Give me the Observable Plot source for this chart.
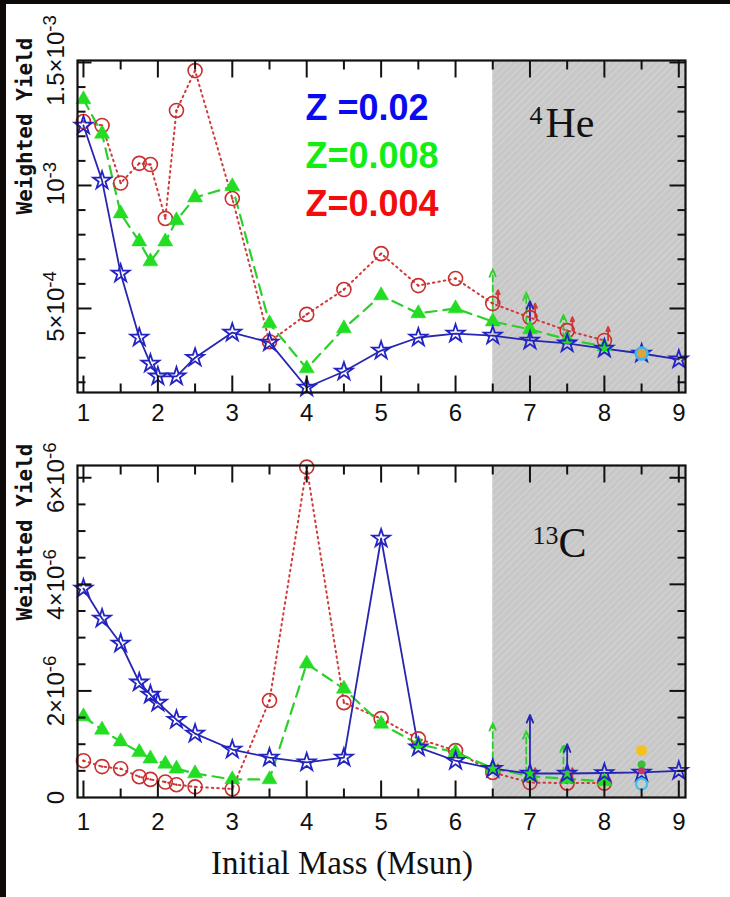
<!DOCTYPE html>
<html>
<head>
<meta charset="utf-8">
<script src="https://cdn.jsdelivr.net/npm/d3@7"></script>
<script src="https://cdn.jsdelivr.net/npm/@observablehq/plot@0.6"></script>
<style>
  html, body { margin: 0; padding: 0; background: #fff; }
  #page { position: relative; width: 730px; height: 897px; overflow: hidden; background: #fff; }
  #he4, #c13 { position: absolute; left: 0; }
  #he4 { top: 0; }
  #c13 { top: 430px; }
  .band { position: absolute; background: #0d0a07; }
  #xlabel {
    position: absolute; top: 845px; left: 342px; transform: translateX(-50%);
    font-family: "Liberation Serif", "DejaVu Serif", serif; font-size: 33px;
    color: #111; white-space: nowrap;
  }
</style>
</head>
<body>
<div id="page">
  <div id="he4"></div>
  <div id="c13"></div>
  <div id="xlabel">Initial Mass (Msun)</div>
  <div class="band" style="left:0;top:0;width:730px;height:4px"></div>
  <div class="band" style="left:0;top:0;width:6px;height:897px"></div>
</div>
<script>
// Initial masses (Msun) computed for each metallicity
const massZ020 = [1, 1.25, 1.5, 1.75, 1.9, 2, 2.25, 2.5, 3, 3.5, 4, 4.5, 5, 5.5, 6, 6.5, 7, 7.5, 8, 8.5, 9];
const massZ008 = [1, 1.25, 1.5, 1.75, 1.9, 2.1, 2.25, 2.5, 3, 3.5, 4, 4.5, 5, 5.5, 6, 6.5, 7, 7.5, 8];
const massZ004 = [1, 1.25, 1.5, 1.75, 1.9, 2.1, 2.25, 2.5, 3, 3.5, 4, 4.5, 5, 5.5, 6, 6.5, 7, 7.5, 8];

// IMF-weighted 4He yields
const he4Z020 = [1.244e-3, 1.02e-3, 6.42e-4, 3.82e-4, 2.76e-4, 2.24e-4, 2.24e-4, 3.0e-4, 4.02e-4, 3.62e-4, 1.79e-4,
                 2.44e-4, 3.29e-4, 3.82e-4, 3.98e-4, 3.9e-4, 3.7e-4, 3.58e-4, 3.37e-4, 3.17e-4, 2.93e-4];
const he4Z008 = [1.35e-3, 1.21e-3, 8.86e-4, 7.72e-4, 6.91e-4, 7.72e-4, 8.58e-4, 9.51e-4, 9.96e-4, 4.39e-4, 2.56e-4,
                 4.19e-4, 5.53e-4, 4.8e-4, 5.0e-4, 4.47e-4, 4.15e-4, 3.75e-4, 3.45e-4];
const he4Z004 = [1.26e-3, 1.244e-3, 1.01e-3, 1.09e-3, 1.085e-3, 8.66e-4, 1.305e-3, 1.467e-3, 9.47e-4, 3.65e-4, 4.76e-4,
                 5.77e-4, 7.23e-4, 5.93e-4, 6.22e-4, 5.2e-4, 4.63e-4, 4.1e-4, 3.7e-4];

// IMF-weighted 13C yields
const c13Z020 = [3.92e-6, 3.36e-6, 2.89e-6, 2.16e-6, 1.93e-6, 1.78e-6, 1.46e-6, 1.2e-6, 0.9e-6, 0.75e-6, 0.66e-6,
                 0.75e-6, 4.86e-6, 0.94e-6, 0.69e-6, 0.54e-6, 0.45e-6, 0.45e-6, 0.46e-6, 0.47e-6, 0.5e-6];
const c13Z008 = [1.52e-6, 1.27e-6, 1.05e-6, 0.85e-6, 0.73e-6, 0.63e-6, 0.54e-6, 0.45e-6, 0.34e-6, 0.34e-6, 2.51e-6,
                 2.04e-6, 1.38e-6, 1.0e-6, 0.85e-6, 0.55e-6, 0.4e-6, 0.35e-6, 0.3e-6];
const c13Z004 = [0.69e-6, 0.58e-6, 0.54e-6, 0.39e-6, 0.34e-6, 0.29e-6, 0.24e-6, 0.2e-6, 0.16e-6, 1.82e-6, 6.2e-6,
                 1.78e-6, 1.48e-6, 1.1e-6, 0.88e-6, 0.47e-6, 0.28e-6, 0.27e-6, 0.27e-6];

// Upper-limit arrows in the super-AGB range (series index: 0 = Z 0.02, 1 = Z 0.008, 2 = Z 0.004)
const he4LimitMass   = [6.5, 6.57, 6.95, 7.0, 7.07, 7.45, 7.5, 7.57, 8.05];
const he4LimitLow    = [4.47e-4, 5.2e-4, 4.0e-4, 3.7e-4, 4.63e-4, 3.75e-4, 3.58e-4, 4.1e-4, 3.7e-4];
const he4LimitHigh   = [6.6e-4, 5.75e-4, 5.65e-4, 5.3e-4, 5.2e-4, 4.75e-4, 4.1e-4, 4.65e-4, 4.25e-4];
const he4LimitSeries = [1, 2, 1, 0, 2, 1, 0, 2, 2];

const c13LimitMass   = [6.5, 6.57, 6.95, 7.0, 7.07, 7.45, 7.5, 7.57];
const c13LimitLow    = [0.55e-6, 0.5e-6, 0.45e-6, 0.45e-6, 0.35e-6, 0.45e-6, 0.45e-6, 0.35e-6];
const c13LimitHigh   = [1.4e-6, 0.62e-6, 1.25e-6, 1.55e-6, 0.55e-6, 1.0e-6, 1.0e-6, 0.55e-6];
const c13LimitSeries = [1, 2, 1, 0, 2, 1, 0, 2];

// Additional 8.5 Msun models
const he4ExtraMass = [8.5];
const he4ExtraValue = [3.17e-4];
const he4ExtraKind = ["ring"];
const c13ExtraMass = [8.5, 8.5, 8.5, 8.5];
const c13ExtraValue = [0.88e-6, 0.25e-6, 0.62e-6, 0.5e-6];
const c13ExtraKind = ["gold", "cyan", "green", "red"];

const seriesLabels = ["Z =0.02", "Z=0.008", "Z=0.004"];
const legendColors = ["#0a0af2", "#12ee12", "#f20c0c"];

const xMajorTicks = [1, 2, 3, 4, 5, 6, 7, 8, 9];
const xMinorTicks = [1.5, 2.5, 3.5, 4.5, 5.5, 6.5, 7.5, 8.5];
const superAgbFrom = 6.5;

const he4Ticks = [5e-4, 1e-3, 1.5e-3];
const he4TickLabels = ["5×10⁻⁴", "10⁻³", "1.5×10⁻³"];
const he4MinorTicks = [2e-4, 3e-4, 4e-4, 6e-4, 7e-4, 8e-4, 9e-4, 1.1e-3, 1.2e-3, 1.3e-3, 1.4e-3];
const c13Ticks = [0, 2e-6, 4e-6, 6e-6];
const c13TickLabels = ["0", "2×10⁻⁶", "4×10⁻⁶", "6×10⁻⁶"];
const c13MinorTicks = [0.5e-6, 1e-6, 1.5e-6, 2.5e-6, 3e-6, 3.5e-6, 4.5e-6, 5e-6, 5.5e-6];

const xDomain = [0.92, 9.09];
const sans = "Liberation Sans, Arial, sans-serif";
const serif = "Liberation Serif, DejaVu Serif, serif";

const lineStyles = [
  {stroke: "#2626b0", strokeWidth: 1.8},
  {stroke: "#2ccf2c", strokeWidth: 2.2, strokeDasharray: "11,7"},
  {stroke: "#d03a3a", strokeWidth: 2, strokeDasharray: "1.5,4", strokeLinecap: "round"}
];

// tick spike drawn as a custom dot symbol so its length stays in pixels
const spike = (dx, dy) => ({draw(ctx) { ctx.moveTo(0, 0); ctx.lineTo(dx, dy); }});

// superscript characters used in the tick labels, mapped back to plain ones
const supChars = {"⁻": "-", "⁰": "0", "¹": "1", "²": "2", "³": "3", "⁴": "4", "⁵": "5", "⁶": "6", "⁷": "7", "⁸": "8", "⁹": "9"};

function raiseExponents(svg) {
  d3.select(svg).selectAll("text").each(function () {
    const m = this.textContent.match(/^(.*?)([⁻⁰¹²³⁴⁵⁶⁷⁸⁹]+)$/);
    if (!m || !m[1]) return;
    this.textContent = m[1];
    d3.select(this).append("tspan")
      .attr("dy", "-0.45em")
      .attr("font-size", "0.78em")
      .text([...m[2]].map(c => supChars[c]).join(""));
  });
}

function panel(o) {
  const rows = o.mass.map((ms, k) => ms.map((m, i) => ({m, v: o.values[k][i]})));
  const limits = o.limitMass.map((m, i) => ({m, lo: o.limitLow[i], hi: o.limitHigh[i], k: o.limitSeries[i]}));
  const extras = o.extraMass.map((m, i) => ({m, v: o.extraValue[i], kind: o.extraKind[i]}));
  const yd = o.yDomain;
  const tickStyle = {stroke: "#111", strokeWidth: 2, fill: "none"};

  const marks = [
    Plot.rect([superAgbFrom], {x1: d => d, x2: () => xDomain[1], y1: () => yd[0], y2: () => yd[1], fill: `url(#${o.patternId})`}),
    // model sequences
    Plot.line(rows[2], {x: "m", y: "v", ...lineStyles[2]}),
    Plot.line(rows[1], {x: "m", y: "v", ...lineStyles[1]}),
    Plot.line(rows[0], {x: "m", y: "v", ...lineStyles[0]}),
    // upper limits
    ...[1, 2, 0].map(k => Plot.arrow(limits.filter(d => d.k === k), {
      x1: "m", y1: "lo", x2: "m", y2: "hi", headLength: 7, headAngle: 45, ...lineStyles[k], strokeWidth: 1.8,
      strokeDasharray: k === 1 ? "6,4" : null
    })),
    Plot.dot(rows[2], {x: "m", y: "v", r: 7, stroke: "#c82f2f", strokeWidth: 1.6, fill: "none"}),
    Plot.dot(rows[2], {x: "m", y: "v", r: 1.2, fill: "#c82f2f"}),
    Plot.dot(rows[1], {x: "m", y: "v", symbol: "triangle", r: 5.6, fill: "#22dd22", stroke: "#22dd22", strokeWidth: 0.5}),
    Plot.dot(rows[0], {x: "m", y: "v", symbol: "star", r: 5.6, stroke: "#2323c4", strokeWidth: 1.8, fill: "none"}),
    // extra 8.5 Msun markers
    Plot.dot(extras.filter(d => d.kind === "ring"), {x: "m", y: "v", r: 6, fill: "#e2a23a", stroke: "#38b8ee", strokeWidth: 2.5}),
    Plot.dot(extras.filter(d => d.kind === "gold"), {x: "m", y: "v", r: 5.5, fill: "#f4c21c"}),
    Plot.dot(extras.filter(d => d.kind === "cyan"), {x: "m", y: "v", r: 5.5, fill: "none", stroke: "#3cc4f0", strokeWidth: 2.2}),
    Plot.dot(extras.filter(d => d.kind === "green"), {x: "m", y: "v", r: 4, fill: "#3bbf3b"}),
    Plot.dot(extras.filter(d => d.kind === "red"), {x: "m", y: "v", r: 3.5, fill: "#c03a6a"}),
    // frame ticks
    Plot.dot(xMajorTicks, {x: d => d, frameAnchor: "bottom", symbol: spike(0, -17), ...tickStyle}),
    Plot.dot(xMinorTicks, {x: d => d, frameAnchor: "bottom", symbol: spike(0, -9), ...tickStyle}),
    Plot.dot(xMajorTicks, {x: d => d, frameAnchor: "top", symbol: spike(0, 17), ...tickStyle}),
    Plot.dot(xMinorTicks, {x: d => d, frameAnchor: "top", symbol: spike(0, 9), ...tickStyle}),
    Plot.dot(o.yTicks.filter(d => d > yd[0]), {y: d => d, frameAnchor: "left", symbol: spike(14, 0), ...tickStyle}),
    Plot.dot(o.yMinor, {y: d => d, frameAnchor: "left", symbol: spike(8, 0), ...tickStyle}),
    Plot.dot(o.yTicks.filter(d => d > yd[0]), {y: d => d, frameAnchor: "right", symbol: spike(-16, 0), ...tickStyle}),
    Plot.dot(o.yMinor, {y: d => d, frameAnchor: "right", symbol: spike(-8, 0), ...tickStyle}),
    Plot.frame({stroke: "#111", strokeWidth: 2.2}),
    // tick labels
    Plot.text(xMajorTicks, {x: d => d, text: d => String(d), frameAnchor: "bottom", dy: o.xLabelDy,
      lineAnchor: "middle", fontSize: 24, fontFamily: sans, fill: "#111"}),
    Plot.text(o.yTicks, {y: d => d, text: (d, i) => o.yTickLabels[i], frameAnchor: "left", dx: -21, dy: o.tickLabelDy, rotate: -90,
      textAnchor: "middle", lineAnchor: "middle", fontSize: 24, fontFamily: sans, fill: "#111"}),
    Plot.text(["Weighted Yield"], {text: d => d, frameAnchor: "left", dx: -52, dy: o.titleDy, rotate: -90,
      lineAnchor: "middle", fontSize: 21, fontWeight: "bold", fontFamily: "DejaVu Sans Mono, monospace", fill: "#111"}),
    // isotope name
    Plot.text([o.isotope[0]], {text: d => d, frameAnchor: "top-left", dx: o.isoDx, dy: o.isoDy - 13, textAnchor: "start",
      lineAnchor: "bottom", fontSize: 26, fontFamily: serif, fill: "#111"}),
    Plot.text([o.isotope[1]], {text: d => d, frameAnchor: "top-left", dx: o.isoDx + o.isoGap, dy: o.isoDy, textAnchor: "start",
      lineAnchor: "bottom", fontSize: 42, fontFamily: serif, fill: "#111"})
  ];

  if (o.legend) {
    seriesLabels.forEach((label, i) => {
      marks.push(Plot.text([label], {text: d => d, frameAnchor: "top-left", dx: 228, dy: 59 + 48 * i,
        textAnchor: "start", lineAnchor: "bottom", fontSize: 36, fontWeight: "bold", fontFamily: sans, fill: legendColors[i]}));
    });
  }

  const svg = Plot.plot({
    width: 730,
    height: o.height,
    marginLeft: 77,
    marginRight: 45,
    marginTop: o.marginTop,
    marginBottom: o.marginBottom,
    x: {domain: xDomain, axis: null},
    y: {domain: yd, axis: null},
    style: {background: "transparent", overflow: "visible"},
    marks
  });

  d3.select(svg).insert("defs", ":first-child").html(
    `<pattern id="${o.patternId}" patternUnits="userSpaceOnUse" width="5" height="5" patternTransform="rotate(45)">
       <rect width="5" height="5" fill="#c8c8c8"></rect>
       <line x1="0" y1="0" x2="0" y2="5" stroke="#d7d7d7" stroke-width="1.6"></line>
     </pattern>`
  );
  raiseExponents(svg);
  return svg;
}

document.getElementById("he4").append(panel({
  mass: [massZ020, massZ008, massZ004],
  values: [he4Z020, he4Z008, he4Z004],
  limitMass: he4LimitMass, limitLow: he4LimitLow, limitHigh: he4LimitHigh, limitSeries: he4LimitSeries,
  extraMass: he4ExtraMass, extraValue: he4ExtraValue, extraKind: he4ExtraKind,
  yDomain: [1.585e-4, 1.508e-3],
  yTicks: he4Ticks, yTickLabels: he4TickLabels, yMinor: he4MinorTicks,
  isotope: ["4", "He"], isoDx: 452, isoGap: 16, isoDy: 76,
  height: 430, marginTop: 60, marginBottom: 38,
  xLabelDy: 21, titleDy: -12, tickLabelDy: -2, legend: true, patternId: "hatch-he4"
}));

document.getElementById("c13").append(panel({
  mass: [massZ020, massZ008, massZ004],
  values: [c13Z020, c13Z008, c13Z004],
  limitMass: c13LimitMass, limitLow: c13LimitLow, limitHigh: c13LimitHigh, limitSeries: c13LimitSeries,
  extraMass: c13ExtraMass, extraValue: c13ExtraValue, extraKind: c13ExtraKind,
  yDomain: [0, 6.23e-6],
  yTicks: c13Ticks, yTickLabels: c13TickLabels, yMinor: c13MinorTicks,
  isotope: ["13", "C"], isoDx: 455, isoGap: 26, isoDy: 91,
  height: 400, marginTop: 35, marginBottom: 33,
  xLabelDy: 25, titleDy: -11, tickLabelDy: 0, legend: false, patternId: "hatch-c13"
}));
</script>
</body>
</html>
